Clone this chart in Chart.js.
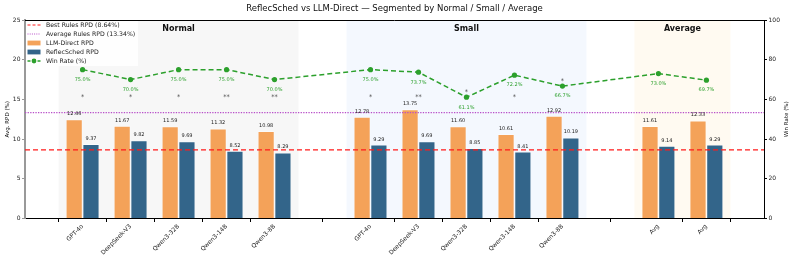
<!DOCTYPE html>
<html>
<head>
<title>ReflecSched vs LLM-Direct</title>
<script src="https://cdn.jsdelivr.net/npm/chart.js"></script>
<style>
  body { margin: 0; background: #fff; }
  #wrap { width: 793px; height: 261px; }
</style>
</head>
<body>
<div id="wrap"><canvas id="chart" width="793" height="261"></canvas></div>
<script>
// ---- data ----
const models = ['GPT-4o', 'DeepSeek-V3', 'Qwen3-32B', 'Qwen3-14B', 'Qwen3-8B',
                'GPT-4o', 'DeepSeek-V3', 'Qwen3-32B', 'Qwen3-14B', 'Qwen3-8B',
                'Avg', 'Avg'];
const segmentOf = ['Normal', 'Normal', 'Normal', 'Normal', 'Normal',
                   'Small', 'Small', 'Small', 'Small', 'Small',
                   'Average', 'Average'];
const segments = ['Normal', 'Small', 'Average'];
const llmDirect = [12.46, 11.67, 11.59, 11.32, 10.98, 12.78, 13.75, 11.60, 10.61, 12.92, 11.61, 12.33];
const reflecSched = [9.37, 9.82, 9.69, 8.52, 8.29, 9.29, 9.69, 8.85, 8.41, 10.19, 9.14, 9.29];
const winRate = [75.0, 70.0, 75.0, 75.0, 70.0, 75.0, 73.7, 61.1, 72.2, 66.7, 73.0, 69.7];
const significance = ['*', '*', '*', '**', '**', '*', '**', '*', '*', '*', '', ''];
const bestRules = 8.64;
const avgRules = 13.34;
const rpdTicks = [0, 5, 10, 15, 20, 25];
const winTicks = [0, 20, 40, 60, 80, 100];

// slot positions: one empty slot between segments
const xSlots = [];
let pos = 0;
segmentOf.forEach((s, i) => {
  if (i > 0 && s !== segmentOf[i - 1]) pos += 1;
  xSlots.push(pos);
  pos += 1;
});
const xMin = -1.2, xMax = xSlots[xSlots.length - 1] + 1.2;

const FONT = '"DejaVu Sans", sans-serif';
const ORANGE = '#f4a259';
const BLUE = '#33658a';
const GREEN = '#2ca02c';
const RED = '#ff1a1a';
const PURPLE = '#b84fc9';
const bandColors = { Normal: '#f7f7f7', Small: '#f4f8fe', Average: '#fffaf1' };

const deco = {
  id: 'deco',
  beforeDraw(chart) {
    const { ctx, chartArea: a, scales: { x } } = chart;
    ctx.save();
    segments.forEach(s => {
      const sl = xSlots.filter((_, k) => segmentOf[k] === s);
      const x0 = x.getPixelForValue(Math.min(...sl) - 0.5);
      const x1 = x.getPixelForValue(Math.max(...sl) + 0.5);
      ctx.fillStyle = bandColors[s];
      ctx.fillRect(x0, a.top, x1 - x0, a.bottom - a.top);
    });
    ctx.restore();
  },
  afterDatasetsDraw(chart) {
    const { ctx, chartArea: a, scales: { x, y, y2 } } = chart;
    ctx.save();
    ctx.textAlign = 'center';
    // bar value labels
    ctx.font = '5px ' + FONT;
    ctx.fillStyle = '#222';
    [0, 1].forEach(di => {
      const meta = chart.getDatasetMeta(di);
      const vals = di === 0 ? llmDirect : reflecSched;
      meta.data.forEach((bar, i) => {
        ctx.fillText(vals[i].toFixed(2), bar.x, bar.y - 4.2);
      });
    });
    // win-rate labels
    ctx.fillStyle = GREEN;
    const wmeta = chart.getDatasetMeta(4);
    wmeta.data.forEach((pt, i) => {
      ctx.fillText(winRate[i].toFixed(1) + '%', pt.x, pt.y + 11.3);
    });
    // significance stars
    ctx.font = '6.5px ' + FONT;
    ctx.fillStyle = '#444';
    const defPx = y.getPixelForValue(15.5);
    wmeta.data.forEach((pt, i) => {
      if (!significance[i]) return;
      let sy = defPx;
      if (pt.y > defPx - 12) sy = Math.min(defPx, pt.y - 7);
      ctx.fillText(significance[i], x.getPixelForValue(xSlots[i]), sy + 3.8);
    });
    ctx.restore();
  },
  afterDraw(chart) {
    const { ctx, chartArea: a, scales: { x } } = chart;
    ctx.save();
    // top spine
    ctx.strokeStyle = '#000';
    ctx.lineWidth = 1;
    ctx.beginPath();
    ctx.moveTo(a.left, a.top + 0.5);
    ctx.lineTo(a.right, a.top + 0.5);
    ctx.stroke();

    // segment titles
    ctx.font = 'bold 8px ' + FONT;
    ctx.fillStyle = '#111';
    ctx.textAlign = 'center';
    segments.forEach(s => {
      const sl = xSlots.filter((_, k) => segmentOf[k] === s);
      const cx = x.getPixelForValue((Math.min(...sl) + Math.max(...sl)) / 2);
      ctx.fillText(s, cx, a.top + 11);
    });

    // legend
    ctx.fillStyle = 'rgba(255,255,255,0.85)';
    ctx.fillRect(a.left + 1, a.top + 1, 112, 45);
    const rows = [
      { label: 'Best Rules RPD (8.64%)', kind: 'line', color: RED, dash: [3, 2] },
      { label: 'Average Rules RPD (13.34%)', kind: 'line', color: PURPLE, dash: [1, 1.2] },
      { label: 'LLM-Direct RPD', kind: 'box', color: ORANGE },
      { label: 'ReflecSched RPD', kind: 'box', color: BLUE },
      { label: 'Win Rate (%)', kind: 'marker', color: GREEN, dash: [3, 2] }
    ];
    ctx.font = '6.2px ' + FONT;
    ctx.textAlign = 'left';
    rows.forEach((r, i) => {
      const ry = a.top + 5 + i * 9;
      const hx0 = a.left + 2.5, hx1 = a.left + 15.5;
      if (r.kind === 'box') {
        ctx.fillStyle = r.color;
        ctx.fillRect(hx0, ry - 2.4, hx1 - hx0, 4.8);
      } else {
        ctx.strokeStyle = r.color;
        ctx.lineWidth = r.kind === 'marker' ? 1.3 : 1;
        ctx.setLineDash(r.dash);
        ctx.beginPath();
        ctx.moveTo(hx0, ry);
        ctx.lineTo(hx1, ry);
        ctx.stroke();
        ctx.setLineDash([]);
        if (r.kind === 'marker') {
          ctx.fillStyle = r.color;
          ctx.beginPath();
          ctx.arc((hx0 + hx1) / 2, ry, 2.4, 0, Math.PI * 2);
          ctx.fill();
        }
      }
      ctx.fillStyle = '#222';
      ctx.fillText(r.label, a.left + 21, ry + 2.2);
    });

    // title
    ctx.font = '8.5px ' + FONT;
    ctx.fillStyle = '#111';
    ctx.textAlign = 'center';
    ctx.fillText('ReflecSched vs LLM-Direct \u2014 Segmented by Normal / Small / Average', (a.left + a.right) / 2, 11);

    // axis titles
    ctx.font = '5.5px ' + FONT;
    ctx.textBaseline = 'middle';
    const cy = (a.top + a.bottom) / 2;
    ctx.save();
    ctx.translate(7.5, cy);
    ctx.rotate(-Math.PI / 2);
    ctx.fillText('Avg. RPD (%)', 0, 0);
    ctx.restore();
    ctx.save();
    ctx.translate(787, cy);
    ctx.rotate(-Math.PI / 2);
    ctx.fillText('Win Rate (%)', 0, 0);
    ctx.restore();
    ctx.restore();
  }
};

const toXY = vals => vals.map((v, i) => ({ x: xSlots[i], y: v }));
const hLine = v => [{ x: xMin, y: v }, { x: xMax, y: v }];

new Chart(document.getElementById('chart'), {
  type: 'bar',
  data: {
    datasets: [
      {
        label: 'LLM-Direct RPD', data: toXY(llmDirect), backgroundColor: ORANGE,
        borderColor: 'rgba(255,255,255,0.6)', borderWidth: 0.8, yAxisID: 'y', order: 3,
        categoryPercentage: 0.7, barPercentage: 1.0
      },
      {
        label: 'ReflecSched RPD', data: toXY(reflecSched), backgroundColor: BLUE,
        borderColor: 'rgba(255,255,255,0.6)', borderWidth: 0.8, yAxisID: 'y', order: 3,
        categoryPercentage: 0.7, barPercentage: 1.0
      },
      {
        type: 'line', label: 'Best Rules RPD', data: hLine(bestRules), borderColor: RED,
        borderWidth: 1.3, borderDash: [5, 3], pointRadius: 0, yAxisID: 'y', order: 2
      },
      {
        type: 'line', label: 'Average Rules RPD', data: hLine(avgRules), borderColor: PURPLE,
        borderWidth: 1.3, borderDash: [1.3, 1.3], pointRadius: 0, yAxisID: 'y', order: 2
      },
      {
        type: 'line', label: 'Win Rate (%)', data: toXY(winRate), borderColor: GREEN,
        backgroundColor: GREEN, borderWidth: 1.5, borderDash: [5, 3], pointRadius: 2.6,
        pointBorderWidth: 0, yAxisID: 'y2', order: 1
      }
    ]
  },
  options: {
    responsive: false,
    devicePixelRatio: 1,
    animation: false,
    layout: { padding: { top: 20, left: 0, right: 0, bottom: 0 } },
    plugins: { legend: { display: false }, tooltip: { enabled: false }, title: { display: false } },
    scales: {
      x: {
        type: 'linear', min: xMin, max: xMax, offset: false,
        afterBuildTicks: s => { s.ticks = xSlots.map(v => ({ value: v })); },
        afterFit: s => { s.height = 42.5; },
        ticks: {
          autoSkip: false, minRotation: 45, maxRotation: 45, padding: 1,
          font: { family: FONT, size: 6 }, color: '#222',
          callback: v => models[xSlots.indexOf(v)]
        },
        grid: { drawOnChartArea: false, drawTicks: true, tickLength: 3.5, color: '#000' },
        border: { color: '#000', width: 1 }
      },
      y: {
        position: 'left', min: 0, max: 25,
        afterBuildTicks: s => { s.ticks = rpdTicks.map(v => ({ value: v })); },
        afterFit: s => { s.width = 25; },
        ticks: { font: { family: FONT, size: 6 }, color: '#222', padding: 1.5 },
        grid: { drawOnChartArea: false, tickLength: 3, color: '#999' },
        border: { color: '#999', width: 2 }
      },
      y2: {
        position: 'right', min: 0, max: 100,
        afterBuildTicks: s => { s.ticks = winTicks.map(v => ({ value: v })); },
        afterFit: s => { s.width = 29; },
        ticks: { font: { family: FONT, size: 6 }, color: '#222', padding: 1.5 },
        grid: { drawOnChartArea: false, tickLength: 3, color: '#000' },
        border: { color: '#000', width: 1 }
      }
    }
  },
  plugins: [deco]
});
</script>
</body>
</html>
